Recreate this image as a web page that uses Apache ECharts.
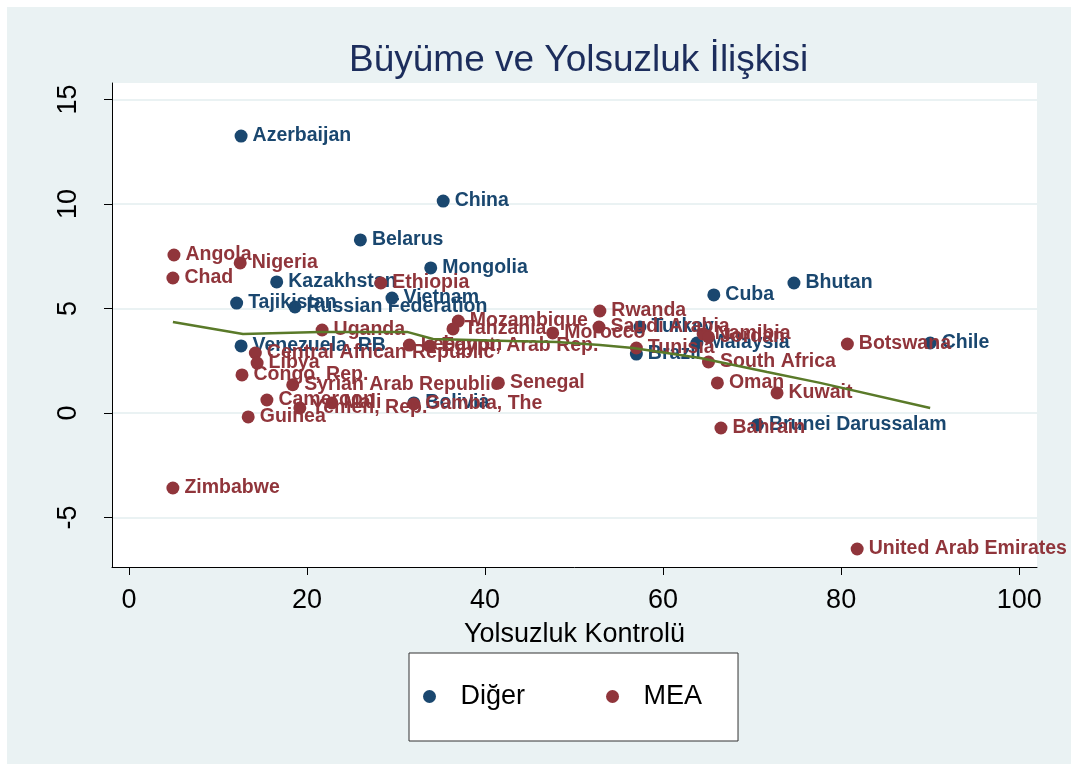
<!DOCTYPE html>
<html>
<head>
<meta charset="utf-8">
<script src="https://cdn.jsdelivr.net/npm/echarts@6/dist/echarts.min.js"></script>
<style>
html,body{margin:0;padding:0;background:#fff;}
#chart{width:1078px;height:771px;}
</style>
</head>
<body>
<div id="chart"></div>
<script>
// ---- data ----
const digerNames = ["Azerbaijan","China","Belarus","Mongolia","Kazakhstan","Tajikistan","Russian Federation","Vietnam","Venezuela, RB","Cuba","Bhutan","Chile","Turkey","Malaysia","Brazil","Bolivia","Brunei Darussalam"];
const digerX = [12.6,35.3,26.0,33.9,16.6,12.1,18.65,29.55,12.6,65.7,74.7,90.0,57.4,63.8,57.0,32.0,70.6];
const digerY = [13.25,10.14,8.28,6.94,6.27,5.26,5.07,5.50,3.21,5.65,6.22,3.35,4.11,3.35,2.82,0.48,-0.57];

const meaNames = ["Angola","Chad","Nigeria","Ethiopia","Uganda","Mozambique","Tanzania","Morocco","Rwanda","Saudi Arabia","Lebanon","Egypt, Arab Rep.","Central African Republic","Libya","Congo, Rep.","Syrian Arab Republic","Cameroon","Mali","Yemen, Rep.","Guinea","Gambia, The","Senegal","Tunisia","Namibia","Jordan","South Africa","Oman","Kuwait","Bahrain","Botswana","United Arab Emirates","Zimbabwe"];
const meaX = [5.06,4.94,12.5,28.3,21.7,37.0,36.4,47.6,52.9,52.8,31.5,33.8,14.2,14.4,12.7,18.4,15.5,22.8,19.2,13.4,32.0,41.5,57.0,64.5,65.1,65.1,66.1,72.8,66.5,80.7,81.8,4.94];
const meaY = [7.56,6.46,7.18,6.22,3.97,4.40,4.02,3.83,4.88,4.11,3.25,3.20,2.87,2.39,1.82,1.35,0.62,0.48,0.24,-0.19,0.43,1.44,3.11,3.78,3.64,2.44,1.44,0.96,-0.72,3.30,-6.51,-3.59];

const lowessX = [4.94,12.81,21.46,31.24,34.16,42.81,48.09,52.92,56.63,64.16,71.69,77.64,90.0];
const lowessY = [4.35,3.78,3.88,3.88,3.54,3.44,3.40,3.25,3.11,2.63,1.96,1.44,0.24];

const xTicks = [0,20,40,60,80,100];
const yTicks = [-5,0,5,10,15];

const seriesNames = ["Diğer","MEA"];
const titleText = "Büyüme ve Yolsuzluk İlişkisi";
const xTitle = "Yolsuzluk Kontrolü";

// ---- chart ----
const FONT = '"Liberation Sans", Arial, Helvetica, sans-serif';
const BLUE = '#1a476f', RED = '#90353b', GREEN = '#5a7a29';
const zip = (xs, ys, ns) => xs.map((x, i) => [x, ys[i], ns[i]]);

const chart = echarts.init(document.getElementById('chart'));
chart.setOption({
  backgroundColor: '#ffffff',
  animation: false,
  graphic: [{
    type: 'rect', z: -10, silent: true,
    shape: {x: 7, y: 7, width: 1064, height: 757},
    style: {fill: '#eaf2f3'}
  }],
  title: {
    text: titleText, left: 344, top: 37,
    textStyle: {fontFamily: FONT, fontSize: 37, fontWeight: 'normal', color: '#1c2d5c'}
  },
  grid: {left: 112, right: 41, top: 83, bottom: 204, show: true, backgroundColor: '#ffffff', borderWidth: 0},
  xAxis: {
    type: 'value', min: -1.9, max: 102,
    name: xTitle, nameLocation: 'middle', nameGap: 54,
    nameTextStyle: {fontFamily: FONT, fontSize: 27, color: '#000'},
    axisLine: {show: true, onZero: false, lineStyle: {color: '#000', width: 1}},
    axisTick: {show: true, length: 8, customValues: xTicks, lineStyle: {color: '#000'}},
    axisLabel: {customValues: xTicks, margin: 20, fontFamily: FONT, fontSize: 27, color: '#000'},
    splitLine: {show: false}
  },
  yAxis: {
    type: 'value', min: -7.37, max: 15.79,
    axisLine: {show: true, onZero: false, lineStyle: {color: '#000', width: 1}},
    axisTick: {show: true, length: 8, customValues: yTicks, lineStyle: {color: '#000'}},
    axisLabel: {customValues: yTicks, rotate: 90, margin: 30, fontFamily: FONT, fontSize: 27, color: '#000'},
    splitLine: {show: true, lineStyle: {color: '#eaf2f3', width: 2}}
  },
  legend: {
    data: [
      {name: seriesNames[0], icon: 'circle'},
      {name: seriesNames[1], icon: 'circle'}
    ],
    left: 409, top: 653,
    orient: 'horizontal',
    itemWidth: 14, itemHeight: 13, itemGap: 81,
    padding: [30, 36, 31, 14],
    backgroundColor: '#ffffff', borderColor: '#333', borderWidth: 1, borderRadius: 0,
    textStyle: {fontFamily: FONT, fontSize: 27, color: '#000', padding: [0, 0, 0, 19]}
  },
  series: [
    {
      name: seriesNames[0], type: 'scatter', symbol: 'circle', symbolSize: 13, z: 2,
      itemStyle: {color: BLUE, opacity: 1},
      data: zip(digerX, digerY, digerNames),
      label: {show: true, position: 'right', distance: 5, formatter: p => p.data[2],
        fontFamily: FONT, fontSize: 19.5, fontWeight: 'bold', color: BLUE}
    },
    {
      name: seriesNames[1], type: 'scatter', symbol: 'circle', symbolSize: 13, z: 3,
      itemStyle: {color: RED, opacity: 1},
      data: zip(meaX, meaY, meaNames),
      label: {show: true, position: 'right', distance: 5, formatter: p => p.data[2],
        fontFamily: FONT, fontSize: 19.5, fontWeight: 'bold', color: RED}
    },
    {
      name: 'lowess', type: 'line', symbol: 'none', z: 5, smooth: false,
      lineStyle: {color: GREEN, width: 2.5},
      data: lowessX.map((x, i) => [x, lowessY[i]])
    }
  ]
});
</script>
</body>
</html>
